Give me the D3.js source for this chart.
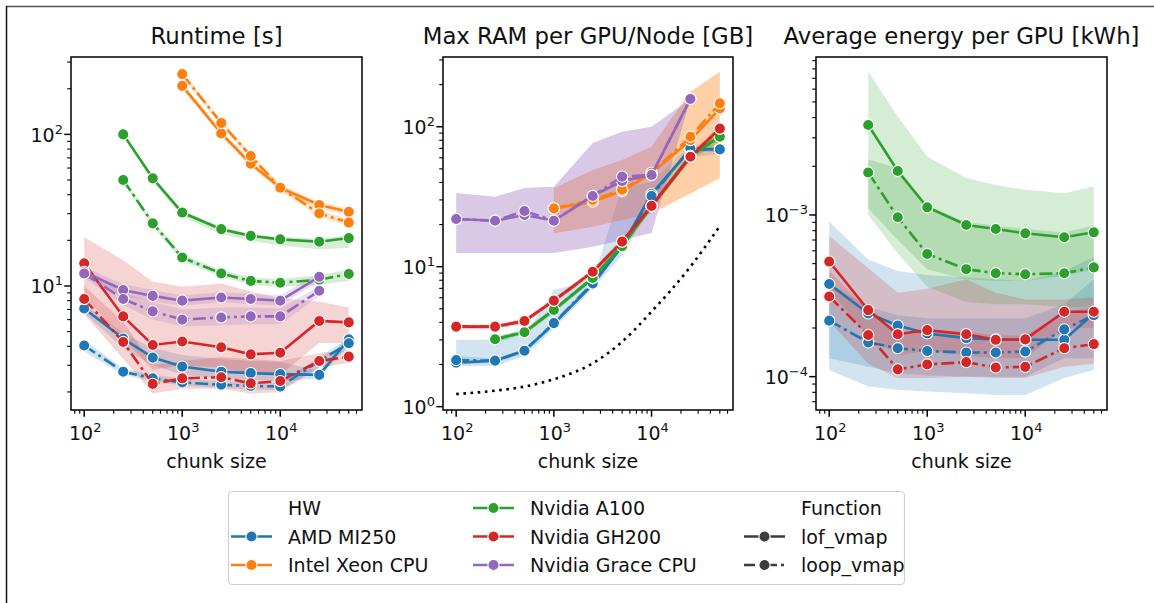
<!DOCTYPE html>
<html>
<head>
<meta charset="utf-8">
<script src="https://cdn.jsdelivr.net/npm/d3@7"></script>
<style>
  body { margin: 0; background: #fff; }
  svg { display: block; font-family: "DejaVu Sans", sans-serif; }
</style>
</head>
<body>
<svg id="chart" width="1154" height="603"></svg>
<script>
// Chunk-size benchmark: runtime, memory, energy per hardware / function

var chunkSizes = [100, 250, 500, 1000, 2500, 5000, 10000, 25000, 50000];
var hardware = ["AMD MI250", "Intel Xeon CPU", "Nvidia A100", "Nvidia GH200", "Nvidia Grace CPU"];
var functions = ["lof_vmap", "loop_vmap"];
var panelTitles = ["Runtime [s]", "Max RAM per GPU/Node [GB]", "Average energy per GPU [kWh]"];

// rows follow the hardware order
var runtimeLof = [
  [7.1, 4.5, 3.37, 2.94, 2.72, 2.66, 2.62, 2.59, 4.45],
  [null, null, null, 209, 101.5, 64, 44.5, 34.2, 30.9],
  [null, 100, 51.3, 30.5, 23.7, 21.4, 20.3, 19.6, 20.7],
  [14.1, 6.3, 4.08, 4.3, 3.94, 3.54, 3.63, 5.88, 5.75],
  [12.4, 9.4, 8.6, 8.0, 8.4, 8.2, 8.0, 11.5, null]
];
var runtimeLoop = [
  [4.05, 2.72, 2.46, 2.31, 2.23, 2.19, 2.17, 3.2, 4.19],
  [null, null, null, 250, 119, 72, 44.5, 30.1, 26.2],
  [null, 50, 25.9, 15.4, 12.1, 10.8, 10.5, 11.0, 12.0],
  [8.2, 4.27, 2.26, 2.46, 2.5, 2.28, 2.36, 3.2, 3.42],
  [12.1, 8.2, 6.8, 6.0, 6.2, 6.3, 6.3, 9.3, null]
];
var runtimeLofLo = [
  [6.6, 3.9, 3.0, 2.6, 2.45, 2.4, 2.35, 2.45, 4.1],
  [null, null, null, 200, 97, 61, 42.5, 32.5, 29.3],
  [null, 97, 49, 28.5, 22, 19.8, 18.5, 17.5, 17.8],
  [8.5, 4.5, 2.8, 3.0, 2.9, 2.6, 2.6, 4.2, 4.2],
  [11.5, 8.6, 7.9, 7.4, 7.8, 7.6, 7.4, 10.8, null]
];
var runtimeLofHi = [
  [7.6, 4.9, 3.9, 3.5, 3.3, 3.2, 3.15, 2.75, 4.8],
  [null, null, null, 218, 106, 67, 46.5, 36, 32.5],
  [null, 103, 53, 31.5, 24.5, 22, 21, 20.5, 21.5],
  [21, 14.8, 10.7, 9.9, 10.4, 9.2, 8.3, 7.9, 7.2],
  [13.3, 10.3, 9.4, 8.7, 9.1, 8.9, 8.7, 12.2, null]
];
var runtimeLoopLo = [
  [3.7, 2.6, 2.35, 2.2, 2.12, 2.08, 2.05, 2.9, 3.9],
  [null, null, null, 240, 114, 69, 42.5, 28.6, 24.8],
  [null, 48, 24.8, 14.6, 11.5, 10.2, 9.9, 10.2, 10.8],
  [6.5, 3.3, 1.95, 2.1, 2.1, 1.95, 2.0, 2.9, 3.1],
  [11.3, 7.5, 6.0, 5.4, 5.5, 5.6, 5.6, 8.6, null]
];
var runtimeLoopHi = [
  [4.4, 2.85, 2.6, 2.45, 2.35, 2.3, 2.3, 3.4, 4.5],
  [null, null, null, 260, 124, 75, 46.5, 31.6, 27.6],
  [null, 52, 27, 16.2, 12.7, 11.4, 11.1, 11.8, 12.8],
  [10, 5.8, 3.0, 3.2, 3.4, 3.3, 3.2, 3.6, 3.8],
  [13, 9.0, 7.8, 7.0, 7.2, 7.2, 7.1, 10, null]
];

var ramLof = [
  [2.06, 2.13, 2.51, 3.9, 7.48, 14.0, 33, 68.9, 68.9],
  [null, null, null, 26.1, 29.1, 34.7, 46.4, 80.3, 135],
  [null, 3.03, 3.4, 4.91, 8.27, 14.2, 27, 62, 85],
  [3.73, 3.73, 4.09, 5.72, 9.2, 15.1, 27.2, 61, 97],
  [21.9, 21.3, 23.4, 21.3, 32, 40.9, 45.2, 158, null]
];
var ramLoop = [
  [2.15, 2.13, 2.51, 3.95, 7.6, 14.2, 32, 70, 68.9],
  [null, null, null, 26.1, 30, 35.5, 47, 84.8, 147],
  [null, 3.03, 3.4, 4.91, 8.3, 14.0, 27, 62, 85],
  [3.73, 3.73, 4.09, 5.72, 9.2, 15.1, 27.2, 61, 97],
  [21.9, 21.3, 25.0, 21.3, 32, 44, 45.2, 158, null]
];
var ramLofLo = [
  [1.95, 1.95, 2.3, 3.6, 7.0, 12.0, 28, 60, 64],
  [null, null, null, 17.3, 19.3, 21.6, 24, 33.4, 42.8],
  [null, 2.9, 3.25, 4.7, 7.9, 13.4, 25.5, 58, 78],
  [3.6, 3.6, 3.95, 5.5, 8.8, 14.4, 26, 58, 92],
  [12.5, 12.5, 12.5, 12.5, 13.9, 15.5, 17.4, 158, null]
];
var ramLofHi = [
  [3.0, 3.0, 3.2, 6.8, 8.0, 37, 40, 75, 73],
  [null, null, null, 36.3, 49.1, 57.8, 71.9, 178, 247],
  [null, 3.15, 3.55, 5.1, 8.6, 15, 28.5, 65, 92],
  [3.85, 3.85, 4.25, 5.95, 9.6, 15.8, 28.5, 64, 102],
  [33.6, 31.6, 36.5, 37.3, 76.6, 92, 100, 158, null]
];
var ramLoopLo = [
  [2.0, 2.05, 2.4, 3.75, 7.2, 13.4, 30, 66, 66],
  [null, null, null, 17.3, 19.3, 21.6, 24, 33.4, 42.8],
  [null, 2.9, 3.25, 4.7, 7.9, 13.4, 25.5, 58, 78],
  [3.6, 3.6, 3.95, 5.5, 8.8, 14.4, 26, 58, 92],
  [12.5, 12.5, 12.5, 12.5, 13.9, 15.5, 17.4, 158, null]
];
var ramLoopHi = [
  [2.3, 2.2, 2.6, 4.1, 7.9, 15, 34, 72, 72],
  [null, null, null, 36.3, 49.1, 57.8, 71.9, 178, 247],
  [null, 3.15, 3.55, 5.1, 8.6, 15, 28.5, 65, 92],
  [3.85, 3.85, 4.25, 5.95, 9.6, 15.8, 28.5, 64, 102],
  [33.6, 31.6, 36.5, 37.3, 76.6, 92, 100, 158, null]
];
// black dotted reference curve in the memory panel
var ramReference = [1.23, 1.3, 1.39, 1.57, 2.04, 2.91, 4.77, 10, 19.5];

var energyLof = [
  [3.74e-4, 2.46e-4, 2.07e-4, 1.85e-4, 1.73e-4, 1.7e-4, 1.69e-4, 1.69e-4, 2.46e-4],
  null,
  [null, 3.6e-3, 1.87e-3, 1.115e-3, 8.67e-4, 8.19e-4, 7.7e-4, 7.28e-4, 7.81e-4],
  [5.15e-4, 2.58e-4, 1.83e-4, 1.94e-4, 1.83e-4, 1.69e-4, 1.7e-4, 2.52e-4, 2.52e-4],
  null
];
var energyLoop = [
  [2.22e-4, 1.63e-4, 1.5e-4, 1.44e-4, 1.41e-4, 1.41e-4, 1.43e-4, 1.96e-4, 2.4e-4],
  null,
  [null, 1.83e-3, 9.68e-4, 5.74e-4, 4.62e-4, 4.36e-4, 4.3e-4, 4.36e-4, 4.74e-4],
  [3.13e-4, 1.81e-4, 1.11e-4, 1.19e-4, 1.23e-4, 1.14e-4, 1.15e-4, 1.5e-4, 1.59e-4],
  null
];
var energyLofLo = [
  [1.1e-4, 8.7e-5, 8.3e-5, 8.1e-5, 7.9e-5, 7.7e-5, 7.7e-5, 9.8e-5, 1.1e-4],
  null,
  [null, 1.1e-3, 7.0e-4, 4.6e-4, 4.0e-4, 3.9e-4, 3.9e-4, 4.2e-4, 4.6e-4],
  [3.4e-4, 1.8e-4, 1.35e-4, 1.45e-4, 1.35e-4, 1.3e-4, 1.3e-4, 2.0e-4, 2.0e-4],
  null
];
var energyLofHi = [
  [9.1e-4, 5.3e-4, 4.5e-4, 4.25e-4, 4.1e-4, 4.0e-4, 3.9e-4, 4.5e-4, 5.5e-4],
  null,
  [null, 7.7e-3, 4.06e-3, 2.3e-3, 1.69e-3, 1.53e-3, 1.43e-3, 1.36e-3, 1.5e-3],
  [7.4e-4, 4.7e-4, 3.3e-4, 3.5e-4, 4.0e-4, 3.3e-4, 3.0e-4, 3.0e-4, 3.1e-4],
  null
];
var energyLoopLo = [
  [1.3e-4, 1.15e-4, 1.05e-4, 1.02e-4, 1.0e-4, 1.0e-4, 1.0e-4, 1.3e-4, 1.3e-4],
  null,
  [null, 1.0e-3, 5.8e-4, 3.6e-4, 2.9e-4, 2.8e-4, 2.8e-4, 2.7e-4, 2.7e-4],
  [2.2e-4, 1.2e-4, 9.8e-5, 9.8e-5, 1.0e-4, 9.8e-5, 9.8e-5, 1.15e-4, 1.2e-4],
  null
];
var energyLoopHi = [
  [3.8e-4, 2.7e-4, 2.4e-4, 2.3e-4, 2.3e-4, 2.3e-4, 2.3e-4, 2.8e-4, 4.0e-4],
  null,
  [null, 2.2e-3, 1.95e-3, 1.15e-3, 9.0e-4, 8.6e-4, 8.2e-4, 7.8e-4, 8.6e-4],
  [4.5e-4, 2.6e-4, 1.8e-4, 1.9e-4, 1.9e-4, 1.8e-4, 1.8e-4, 2.5e-4, 2.7e-4],
  null
];

///////////////////////////////////////////////////////////////////////////////
// Layout

var svg = d3.select("#chart");
var colors = ["#1f77b4", "#ff7f0e", "#2ca02c", "#d62728", "#9467bd"];
var fnDash = [null, "13,4,3,4"];
var markerR = 5.6;
var plotTop = 57, plotBottom = 410;
var xDomain = [73.3, 68230];

var panels = [
  { left: 71, right: 362, yDomain: [1.52, 324],
    values: [runtimeLof, runtimeLoop], lo: [runtimeLofLo, runtimeLoopLo], hi: [runtimeLofHi, runtimeLoopHi] },
  { left: 443, right: 733, yDomain: [0.946, 315],
    values: [ramLof, ramLoop], lo: [ramLofLo, ramLoopLo], hi: [ramLofHi, ramLoopHi], reference: ramReference },
  { left: 816, right: 1107, yDomain: [6.22e-5, 9.48e-3],
    values: [energyLof, energyLoop], lo: [energyLofLo, energyLoopLo], hi: [energyLofHi, energyLoopHi] }
];

// frame lines along the top and left edge of the image
svg.append("line").attr("x1", 6).attr("x2", 1154).attr("y1", 6.5).attr("y2", 6.5)
  .attr("stroke", "#555").attr("stroke-width", 1.5);
svg.append("line").attr("x1", 6.5).attr("x2", 6.5).attr("y1", 6).attr("y2", 603)
  .attr("stroke", "#111").attr("stroke-width", 1.5);

var powLabel = function (text, exp) {
  text.append("tspan").text("10");
  text.append("tspan").attr("font-size", 13).attr("dy", -8)
    .text(exp < 0 ? "\u2212" + (-exp) : String(exp));
};

// every 1..9 x 10^k inside the domain
var logTicks = function (domain) {
  var out = [];
  for (var k = Math.floor(Math.log10(domain[0])); k <= Math.ceil(Math.log10(domain[1])); k++) {
    for (var m = 1; m <= 9; m++) {
      var v = m * Math.pow(10, k);
      if (v >= domain[0] && v <= domain[1]) out.push({ v: v, major: m === 1, exp: k });
    }
  }
  return out;
};

panels.forEach(function (p, pi) {
  var x = d3.scaleLog().domain(xDomain).range([p.left, p.right]);
  var y = d3.scaleLog().domain(p.yDomain).range([plotBottom, plotTop]);
  var g = svg.append("g");

  g.append("clipPath").attr("id", "clip" + pi).append("rect")
    .attr("x", p.left).attr("y", plotTop)
    .attr("width", p.right - p.left).attr("height", plotBottom - plotTop);
  var plot = g.append("g").attr("clip-path", "url(#clip" + pi + ")");

  // confidence bands sit under all lines
  hardware.forEach(function (hw, h) {
    [0, 1].forEach(function (f) {
      var lo = p.lo[f][h], hi = p.hi[f][h];
      if (!lo) return;
      var pts = chunkSizes.map(function (c, i) { return { c: c, lo: lo[i], hi: hi[i] }; })
        .filter(function (d) { return d.lo != null; });
      var area = d3.area()
        .x(function (d) { return x(d.c); })
        .y0(function (d) { return y(d.lo); })
        .y1(function (d) { return y(d.hi); });
      plot.append("path").attr("d", area(pts))
        .attr("fill", colors[h]).attr("fill-opacity", 0.2);
    });
  });

  // lines with markers
  hardware.forEach(function (hw, h) {
    [0, 1].forEach(function (f) {
      var row = p.values[f][h];
      if (!row) return;
      var pts = chunkSizes.map(function (c, i) { return { c: c, v: row[i] }; })
        .filter(function (d) { return d.v != null; });
      var line = d3.line()
        .x(function (d) { return x(d.c); })
        .y(function (d) { return y(d.v); });
      plot.append("path").attr("d", line(pts))
        .attr("fill", "none").attr("stroke", colors[h]).attr("stroke-width", 2.6)
        .attr("stroke-dasharray", fnDash[f]);
      plot.selectAll(null).data(pts).enter().append("circle")
        .attr("cx", function (d) { return x(d.c); })
        .attr("cy", function (d) { return y(d.v); })
        .attr("r", markerR).attr("fill", colors[h])
        .attr("stroke", "#fff").attr("stroke-width", 1.1);
    });
  });

  if (p.reference) {
    var refLine = d3.line().curve(d3.curveMonotoneX)
      .x(function (d, i) { return x(chunkSizes[i]); })
      .y(function (d) { return y(d); });
    plot.append("path").attr("d", refLine(p.reference))
      .attr("fill", "none").attr("stroke", "#000").attr("stroke-width", 2.6)
      .attr("stroke-dasharray", "2.6,4.6");
  }

  // axes frame and ticks
  g.append("rect").attr("x", p.left).attr("y", plotTop)
    .attr("width", p.right - p.left).attr("height", plotBottom - plotTop)
    .attr("fill", "none").attr("stroke", "#000").attr("stroke-width", 1.5);

  logTicks(xDomain).forEach(function (t) {
    var len = t.major ? 6.7 : 3.8;
    g.append("line").attr("x1", x(t.v)).attr("x2", x(t.v))
      .attr("y1", plotBottom).attr("y2", plotBottom + len)
      .attr("stroke", "#000").attr("stroke-width", t.major ? 1.5 : 1.1);
    if (t.major) {
      var lbl = g.append("text").attr("x", x(t.v) + 1).attr("y", 440)
        .attr("text-anchor", "middle").attr("font-size", 19).attr("fill", "#111");
      powLabel(lbl, t.exp);
    }
  });

  logTicks(p.yDomain).forEach(function (t) {
    var len = t.major ? 6.7 : 3.8;
    g.append("line").attr("x1", p.left - len).attr("x2", p.left)
      .attr("y1", y(t.v)).attr("y2", y(t.v))
      .attr("stroke", "#000").attr("stroke-width", t.major ? 1.5 : 1.1);
    if (t.major) {
      var lbl = g.append("text").attr("x", p.left - 8).attr("y", y(t.v) + 7.4)
        .attr("text-anchor", "end").attr("font-size", 19).attr("fill", "#111");
      powLabel(lbl, t.exp);
    }
  });

  g.append("text").attr("x", (p.left + p.right) / 2).attr("y", 468)
    .attr("text-anchor", "middle").attr("font-size", 19).attr("fill", "#111")
    .text("chunk size");
  g.append("text").attr("x", (p.left + p.right) / 2).attr("y", 44)
    .attr("text-anchor", "middle").attr("font-size", 22.8).attr("fill", "#111")
    .text(panelTitles[pi]);
});

///////////////////////////////////////////////////////////////////////////////
// Legend (filled column by column, 3 rows)

var legendItems = [{ label: "HW" }]
  .concat(hardware.map(function (hw, h) { return { label: hw, color: colors[h], dash: null }; }))
  .concat([{ label: "Function" }])
  .concat(functions.map(function (fn, f) { return { label: fn, color: "#3d3d3d", dash: f ? "11,4,3,4" : null }; }));

var legend = svg.append("g");
legend.append("rect").attr("x", 228.5).attr("y", 491.5).attr("width", 676).attr("height", 93)
  .attr("rx", 4).attr("fill", "#fff").attr("stroke", "#d0d0d0").attr("stroke-width", 1.2);

var colTextX = [288, 530, 801];
var rowY = [508, 536.5, 565];

legendItems.forEach(function (item, i) {
  var tx = colTextX[Math.floor(i / 3)], cy = rowY[i % 3];
  if (item.color) {
    legend.append("line").attr("x1", tx - 57).attr("x2", tx - 16)
      .attr("y1", cy).attr("y2", cy)
      .attr("stroke", item.color).attr("stroke-width", 2.6)
      .attr("stroke-dasharray", item.dash);
    legend.append("circle").attr("cx", tx - 36.5).attr("cy", cy).attr("r", markerR)
      .attr("fill", item.color).attr("stroke", "#fff").attr("stroke-width", 1.1);
  }
  legend.append("text").attr("x", tx).attr("y", cy + 7)
    .attr("font-size", 19).attr("fill", "#111").text(item.label);
});
</script>
</body>
</html>
